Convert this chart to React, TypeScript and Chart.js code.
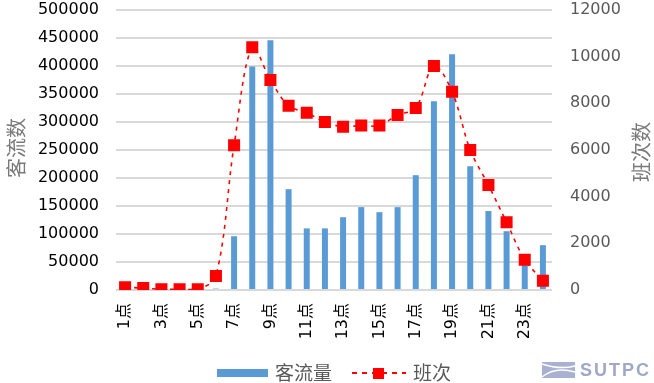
import React, { useEffect, useRef } from 'react';
import { Chart, registerables } from 'chart.js';

Chart.register(...registerables);

const categories = [
  '1点', '2点', '3点', '4点', '5点', '6点', '7点', '8点', '9点', '10点', '11点', '12点',
  '13点', '14点', '15点', '16点', '17点', '18点', '19点', '20点', '21点', '22点', '23点', '24点',
];

const passengerFlow = [
  1000, 500, 300, 300, 800, 2500, 96000, 399000, 446000, 180000, 110000, 110000,
  130000, 148000, 139000, 148000, 205000, 337000, 421000, 221000, 141000, 105000, 55000, 80000,
];

const trips = [
  120, 80, 30, 30, 30, 600, 6200, 10400, 9000, 7900, 7600, 7200,
  7000, 7050, 7050, 7500, 7800, 9600, 8500, 6000, 4500, 2900, 1300, 400,
];

const seriesNames = ['客流量', '班次'];
const axisTitles = ['客流数', '班次数'];
const logoText = 'SUTPC';

const FONT = '"DejaVu Sans", "Noto Sans CJK SC", sans-serif';
const CJK = '"Noto Sans CJK SC", sans-serif';

const overlayPlugin = {
  id: 'overlay',
  afterDraw(chart: any) {
    const ctx: CanvasRenderingContext2D = chart.ctx;
    const area = chart.chartArea;
    const cy = (area.top + area.bottom) / 2;
    ctx.save();
    // axis titles
    ctx.font = `20px ${CJK}`;
    ctx.fillStyle = '#7a7a7a';
    ctx.textAlign = 'center';
    ctx.textBaseline = 'middle';
    ctx.save();
    ctx.translate(16, cy - 2);
    ctx.rotate(-Math.PI / 2);
    ctx.fillText(axisTitles[0], 0, 0);
    ctx.restore();
    ctx.save();
    ctx.translate(641, cy + 2);
    ctx.rotate(-Math.PI / 2);
    ctx.fillText(axisTitles[1], 0, 0);
    ctx.restore();

    // legend
    const ly = 373;
    ctx.fillStyle = '#5b9bd5';
    ctx.fillRect(217, ly - 4, 51, 8);
    ctx.font = `19px ${CJK}`;
    ctx.fillStyle = '#595959';
    ctx.textAlign = 'left';
    ctx.fillText(seriesNames[0], 275, ly);
    ctx.strokeStyle = '#ff0000';
    ctx.lineWidth = 2;
    ctx.setLineDash([5, 5]);
    ctx.beginPath();
    ctx.moveTo(352, ly);
    ctx.lineTo(406, ly);
    ctx.stroke();
    ctx.setLineDash([]);
    ctx.fillStyle = '#ff0000';
    ctx.fillRect(373, ly - 5, 11, 11);
    ctx.fillStyle = '#595959';
    ctx.fillText(seriesNames[1], 413, ly);

    // logo
    ctx.fillStyle = '#a9b1d3';
    ctx.fillRect(542, 362, 33, 16);
    ctx.strokeStyle = '#ffffff';
    ctx.lineWidth = 1.5;
    ctx.beginPath();
    ctx.moveTo(542, 364);
    ctx.quadraticCurveTo(560, 370, 575, 366);
    ctx.moveTo(542, 377);
    ctx.quadraticCurveTo(555, 366, 575, 372);
    ctx.stroke();
    ctx.fillStyle = '#a0a8c6';
    ctx.font = 'bold 18px "Liberation Sans", Arial, sans-serif';
    (ctx as any).letterSpacing = '2px';
    ctx.fillText(logoText, 580, 371);
    ctx.restore();
  },
};

const plain = (v: any) => String(v);

export default function App() {
  const canvasRef = useRef<HTMLCanvasElement | null>(null);

  useEffect(() => {
    document.body.style.margin = '0';
    const canvas = canvasRef.current;
    if (!canvas) return;
    const chart = new Chart(canvas, {
      type: 'bar',
      data: {
        labels: categories,
        datasets: [
          {
            type: 'line',
            label: seriesNames[1],
            data: trips,
            yAxisID: 'y1',
            borderColor: '#ff0000',
            borderWidth: 1.6,
            borderDash: [4, 5],
            tension: 0.35,
            pointStyle: 'rect',
            pointRadius: 8.5,
            pointHoverRadius: 8.5,
            pointBackgroundColor: '#ff0000',
            pointBorderWidth: 0,
            order: 0,
          } as any,
          {
            type: 'bar',
            label: seriesNames[0],
            data: passengerFlow,
            yAxisID: 'y',
            backgroundColor: '#5b9bd5',
            categoryPercentage: 1,
            barPercentage: 0.33,
            order: 1,
          },
        ],
      },
      options: {
        responsive: false,
        animation: false,
        layout: { padding: { top: 10, bottom: 40, left: 0, right: 0 } },
        plugins: {
          legend: { display: false },
          tooltip: { enabled: false },
          title: { display: false },
        },
        scales: {
          x: {
            grid: { display: false, drawTicks: false },
            border: { display: false },
            ticks: {
              autoSkip: false,
              maxRotation: 90,
              minRotation: 90,
              padding: 13,
              color: '#000000',
              font: { family: FONT, size: 16 },
              callback: (_v: any, i: number) => (i % 2 === 0 ? categories[i] : ''),
            },
            afterFit: (s: any) => {
              s.height = 53;
            },
          },
          y: {
            position: 'left',
            min: 0,
            max: 500000,
            grid: {
              color: '#d9d9d9',
              lineWidth: 2,
              drawTicks: true,
              tickLength: 17,
              tickColor: 'rgba(0,0,0,0)',
            },
            border: { display: false },
            ticks: {
              stepSize: 50000,
              padding: 0,
              color: '#000000',
              font: { family: FONT, size: 16 },
              callback: plain,
            },
            afterFit: (s: any) => {
              s.width = 116;
            },
          },
          y1: {
            position: 'right',
            min: 0,
            max: 12000,
            grid: {
              display: true,
              drawOnChartArea: false,
              color: 'rgba(0,0,0,0)',
              drawTicks: true,
              tickLength: 18,
              tickColor: 'rgba(0,0,0,0)',
            },
            border: { display: false },
            ticks: {
              stepSize: 2000,
              padding: 0,
              color: '#595959',
              font: { family: FONT, size: 16 },
              callback: plain,
            },
            afterFit: (s: any) => {
              s.width = 102;
            },
          },
        },
      },
      plugins: [overlayPlugin],
    });
    return () => chart.destroy();
  }, []);

  return (
    <div style={{ width: 654, height: 383 }}>
      <canvas ref={canvasRef} width={654} height={383} style={{ display: 'block' }} />
    </div>
  );
}
